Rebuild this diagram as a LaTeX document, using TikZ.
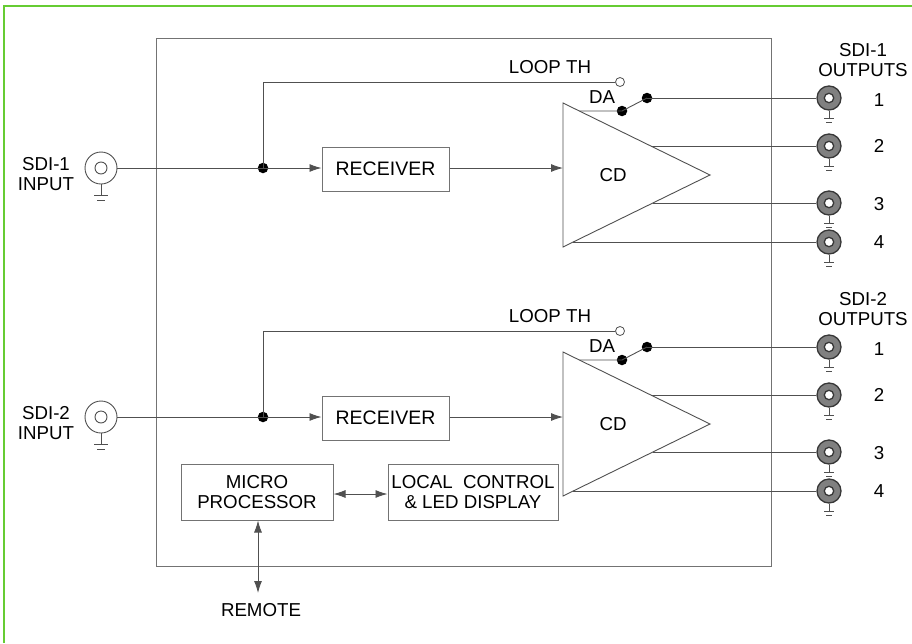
\documentclass[tikz,border=0pt]{standalone}
\usepackage{fontspec}
\setmainfont{Liberation Sans}
\usetikzlibrary{arrows.meta}
\definecolor{grn}{RGB}{102,204,51}
\definecolor{lnc}{RGB}{80,80,80}
\definecolor{boxc}{RGB}{115,115,115}
\definecolor{conf}{RGB}{128,128,128}
\definecolor{conl}{RGB}{55,55,55}
\tikzset{
  ln/.style={draw=lnc, line width=0.9pt},
  arr/.style={ln, -{Latex[length=12pt,width=8pt]}},
  darr/.style={ln, {Latex[length=12pt,width=8pt]}-{Latex[length=12pt,width=8pt]}},
  blk/.style={draw=boxc, line width=1pt, inner sep=0pt, align=center},
  txt/.style={inner sep=0pt, align=center, font=\fontsize{18.7}{20.5}\selectfont},
  jdot/.style={circle, fill=black, inner sep=0pt, minimum size=10.5pt},
  odot/.style={circle, draw=lnc, fill=white, line width=0.8pt, inner sep=0pt, minimum size=9pt},
  inconn/.style={circle, draw=lnc, line width=0.9pt, inner sep=0pt, minimum size=32pt},
  outconn/.style={circle, draw=conl, fill=conf, line width=1.3pt, inner sep=0pt, minimum size=24pt},
}
\begin{document}
\begin{tikzpicture}[x=1pt,y=-1pt]
\useasboundingbox (0,0) rectangle (912,643);
% green frame
\draw[grn, line width=2pt] (4,643) -- (4,6) -- (912,6);
% main box
\node[draw=boxc, line width=1pt, minimum width=615pt, minimum height=528pt, inner sep=0pt] (main) at (463.5,302) {};
\foreach \s/\dy in {1/0, 2/249} {
  % input connector
  \node[inconn] (in\s) at (101,168+\dy) {};
  \draw[ln] (in\s.center) circle (6pt);
  \draw[ln] (in\s.south) -- ++(0,11) coordinate (ig\s);
  \draw[ln] ([xshift=-7pt]ig\s) -- ([xshift=7pt]ig\s);
  \draw[ln] ([xshift=-4pt,yshift=-5pt]ig\s) -- ([xshift=4pt,yshift=-5pt]ig\s);
  \node[txt] (inl\s) at (46,174+\dy) {SDI-\s\\INPUT};
  % junction, receiver
  \node[jdot] (j\s) at (263,168+\dy) {};
  \node[blk, minimum width=127pt, minimum height=44pt, font=\fontsize{19.5}{20.5}\selectfont] (rx\s) at (385.5,169+\dy) {RECEIVER};
  \draw[ln] (in\s.east) -- (j\s.center);
  \draw[arr] (j\s.center) -- (rx\s.west |- j\s);
  % triangle CD
  \coordinate (tA\s) at (563,103+\dy);
  \coordinate (tB\s) at (563,247+\dy);
  \coordinate (tC\s) at (710,175+\dy);
  \draw[ln] (tA\s) -- (tC\s) -- (tB\s) -- cycle;
  \node[txt] (cd\s) at (613,175+\dy) {CD};
  \draw[arr] (rx\s.east |- j\s) -- (tA\s |- j\s);
  % loop through
  \node[odot] (lt\s) at (620,82+\dy) {};
  \draw[ln] (j\s.center) |- (lt\s.west);
  \node[txt] (ltl\s) at (550,67+\dy) {LOOP TH};
  % DA switch
  \coordinate (e1\s) at (579.3,111+\dy);
  \node[jdot] (sa\s) at (622,111+\dy) {};
  \node[jdot] (sb\s) at (647,98+\dy) {};
  \node[txt] (da\s) at (602,97+\dy) {DA};
  \draw[ln] (e1\s) -- (sa\s.center) -- (sb\s.center);
  % outputs
  \node[outconn] (o\s1) at (829,98+\dy) {};
  \node[outconn] (o\s2) at (829,146+\dy) {};
  \node[outconn] (o\s3) at (829,203+\dy) {};
  \node[outconn] (o\s4) at (829,242+\dy) {};
  \foreach \k in {1,2,3,4} {
    \draw[draw=conl, fill=white, line width=1.3pt] (o\s\k.center) circle (4.7pt);
    \draw[ln] (o\s\k.south) -- ++(0,8) coordinate (og\s\k);
    \draw[ln] ([xshift=-5pt]og\s\k) -- ([xshift=5pt]og\s\k);
    \draw[ln] ([xshift=-3pt,yshift=-4pt]og\s\k) -- ([xshift=3pt,yshift=-4pt]og\s\k);
  }
  \node[txt] (n\s1) at (879,100+\dy) {1};
  \node[txt] (n\s2) at (879,146+\dy) {2};
  \node[txt] (n\s3) at (879,204+\dy) {3};
  \node[txt] (n\s4) at (879,242+\dy) {4};
  \coordinate (e2\s) at (650.8,146+\dy);
  \coordinate (e3\s) at (652.8,203+\dy);
  \coordinate (e4\s) at (573.2,242+\dy);
  \draw[ln] (sb\s.center) -- (o\s1.west);
  \draw[ln] (e2\s) -- (o\s2.west);
  \draw[ln] (e3\s) -- (o\s3.west);
  \draw[ln] (e4\s) -- (o\s4.west);
  \node[txt] (ol\s) at (863,60+\dy) {SDI-\s\\OUTPUTS};
}
% micro processor & local control
\node[blk, fill=white, minimum width=152pt, minimum height=56pt, font=\fontsize{18.7}{20.5}\selectfont] (mp) at (257,492) {MICRO\\PROCESSOR};
\node[blk, fill=white, minimum width=170pt, minimum height=56pt, font=\fontsize{18.7}{20.5}\selectfont] (lc) at (473,492) {LOCAL\ \ CONTROL\\\& LED DISPLAY};
\draw[darr] ([yshift=-2pt]mp.east) -- ([yshift=-2pt]lc.west);
\coordinate (rm) at (258,593);
\draw[darr] (mp.south -| rm) -- (rm);
\node[txt] (rml) at (261,610) {REMOTE};
\end{tikzpicture}
\end{document}
